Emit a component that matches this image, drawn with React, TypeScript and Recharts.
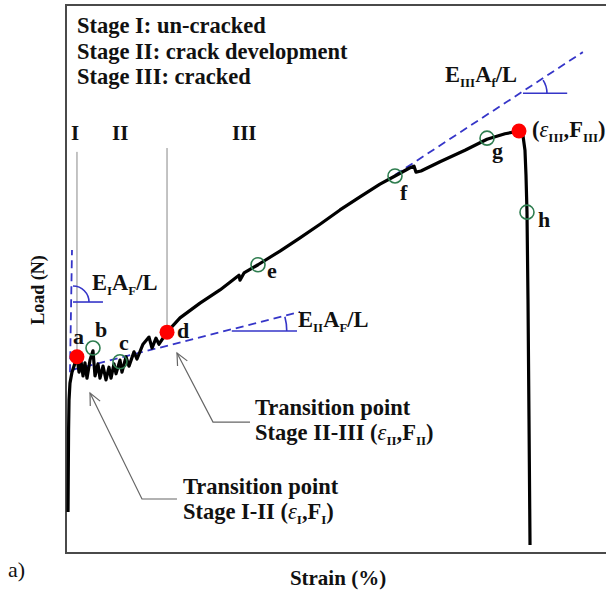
import React from "react";
import {
  ComposedChart,
  Line,
  Scatter,
  XAxis,
  YAxis,
  ReferenceArea,
  ReferenceLine,
  ReferenceDot,
} from "recharts";

// strain and load are both given in % of the plotted range
const loadCurve = [
  { x: 0.36, y: 7.48 }, { x: 0.41, y: 15.15 }, { x: 0.46, y: 22.4 }, { x: 0.54, y: 27.9 },
  { x: 0.71, y: 31.0 }, { x: 1.07, y: 33.0 }, { x: 1.43, y: 34.1 }, { x: 1.96, y: 35.8 },
  { x: 2.32, y: 33.0 }, { x: 2.68, y: 35.0 }, { x: 3.04, y: 32.3 }, { x: 3.39, y: 34.7 },
  { x: 3.75, y: 31.9 }, { x: 4.29, y: 35.2 }, { x: 4.82, y: 36.9 }, { x: 5.18, y: 32.3 },
  { x: 5.71, y: 34.5 }, { x: 6.07, y: 31.9 }, { x: 6.61, y: 34.1 }, { x: 7.14, y: 31.6 },
  { x: 7.68, y: 33.9 }, { x: 8.04, y: 31.9 }, { x: 8.57, y: 34.5 }, { x: 8.93, y: 32.7 },
  { x: 9.64, y: 35.2 }, { x: 10.0, y: 33.0 }, { x: 10.71, y: 35.8 }, { x: 11.25, y: 34.1 },
  { x: 12.14, y: 36.7 }, { x: 12.68, y: 35.4 }, { x: 13.75, y: 38.1 }, { x: 14.82, y: 39.4 },
  { x: 15.36, y: 37.4 }, { x: 16.07, y: 39.2 }, { x: 16.61, y: 38.1 }, { x: 18.04, y: 40.3 },
  { x: 20.36, y: 42.9 }, { x: 23.93, y: 45.6 }, { x: 27.5, y: 48.0 }, { x: 30.89, y: 50.7 },
  { x: 31.07, y: 49.8 }, { x: 31.79, y: 51.1 }, { x: 34.29, y: 52.6 }, { x: 38.21, y: 55.1 },
  { x: 41.79, y: 57.5 }, { x: 45.36, y: 60.0 }, { x: 48.93, y: 62.6 }, { x: 52.5, y: 65.0 },
  { x: 56.07, y: 67.3 }, { x: 58.75, y: 68.8 }, { x: 61.43, y: 70.3 }, { x: 62.14, y: 70.6 },
  { x: 62.5, y: 69.5 }, { x: 63.39, y: 69.7 }, { x: 66.79, y: 71.4 }, { x: 71.25, y: 73.5 },
  { x: 75.18, y: 75.5 }, { x: 78.39, y: 76.5 }, { x: 80.89, y: 77.0 }, { x: 81.61, y: 76.1 },
  { x: 81.96, y: 73.5 }, { x: 82.14, y: 69.0 }, { x: 82.32, y: 62.2 }, { x: 82.5, y: 46.2 },
  { x: 82.68, y: 24.3 }, { x: 82.86, y: 1.46 },
];

// stiffness fits for each stage
const stageIFit = [{ x: 0.71, y: 33.0 }, { x: 1.07, y: 55.3 }];
const stageIIFit = [{ x: 1.07, y: 33.4 }, { x: 41.8, y: 44.0 }];
const stageIIIFit = [{ x: 58.75, y: 69.0 }, { x: 92.3, y: 91.4 }];

// horizontal legs of the slope angles
const stageIBase = [{ x: 1.25, y: 45.8 }, { x: 6.6, y: 45.8 }];
const stageIIBase = [{ x: 29.6, y: 40.5 }, { x: 41.25, y: 40.5 }];
const stageIIIBase = [{ x: 81.6, y: 83.9 }, { x: 89.5, y: 83.9 }];

const transitionPoints = [
  { name: "a", x: 1.96, y: 35.8 },
  { name: "d", x: 18.04, y: 40.3 },
  { name: "peak", x: 80.89, y: 77.0 },
];

const markedPoints = [
  { name: "b", x: 4.82, y: 37.4 },
  { name: "c", x: 9.64, y: 34.9 },
  { name: "e", x: 34.29, y: 52.6 },
  { name: "f", x: 58.75, y: 68.8 },
  { name: "g", x: 75.18, y: 75.7 },
  { name: "h", x: 82.32, y: 62.2 },
];

// stage boundaries (strain) and how high the marker lines reach
const stageBounds = [
  { x: 1.96, from: 35.8, to: 73.2 },
  { x: 18.04, from: 40.3, to: 73.9 },
];

// leader lines for the two transition callouts
const pointerII = [{ x: 32.86, y: 23.9 }, { x: 26.25, y: 23.9 }, { x: 19.82, y: 36.5 }];
const pointerI = [{ x: 19.82, y: 9.85 }, { x: 13.57, y: 9.85 }, { x: 4.29, y: 29.2 }];

const SERIF = '"Liberation Serif", "Times New Roman", serif';
const BLUE = "#3535c8";
const GREEN = "#2e7d4f";
const INK = "#111";

// letter placement next to each point, px
const letterOffset: Record<string, [number, number]> = {
  a: [-4, -13],
  b: [2, -11],
  c: [-1, -12],
  d: [10, 6],
  e: [9, 13],
  f: [5, 24],
  g: [5, 20],
  h: [11, 15],
};

const Letter = ({ cx, cy, name }: { cx: number; cy: number; name: string }) => {
  const off = letterOffset[name];
  if (!off) return null;
  return (
    <text x={cx + off[0]} y={cy + off[1]} fontFamily={SERIF} fontWeight="bold" fontSize={22} fill={INK}>
      {name}
    </text>
  );
};

// inline runs: [text, subscript?, italic?]
type Run = [string, boolean?, boolean?];
const rich = (runs: Run[]) => {
  let low = false;
  return runs.map(([s, sub, ital], i) => {
    const dy = sub && !low ? 5 : !sub && low ? -5 : 0;
    low = !!sub;
    return (
      <tspan
        key={i}
        dy={dy || undefined}
        fontSize={sub ? 13 : undefined}
        fontStyle={ital ? "italic" : undefined}
        fontWeight={ital ? "normal" : undefined}
      >
        {s}
      </tspan>
    );
  });
};

// text block anchored at a data point
const note = (key: string, x: number, y: number, body: React.ReactNode) => (
  <ReferenceDot
    key={key}
    x={x}
    y={y}
    r={0}
    ifOverflow="visible"
    shape={(p: any) => (
      <g transform={`translate(${p.cx},${p.cy})`} fontFamily={SERIF} fontWeight="bold" fontSize={22.5} fill={INK}>
        {body}
      </g>
    )}
  />
);

// angle arc at the foot of a fit line
const arc = (key: string, x: number, y: number, r: number, deg: number) => (
  <ReferenceDot
    key={key}
    x={x}
    y={y}
    r={0}
    ifOverflow="visible"
    shape={(p: any) => {
      const t = (deg * Math.PI) / 180;
      const ex = p.cx + r * Math.cos(t);
      const ey = p.cy - r * Math.sin(t);
      return (
        <path
          d={`M${p.cx + r},${p.cy} A${r},${r} 0 0 0 ${ex},${ey}`}
          fill="none"
          stroke={BLUE}
          strokeWidth={1.6}
        />
      );
    }}
  />
);

// open arrow head at a leader tip, heading in screen degrees
const arrowHead = (key: string, x: number, y: number, heading: number) => (
  <ReferenceDot
    key={key}
    x={x}
    y={y}
    r={0}
    ifOverflow="visible"
    shape={(p: any) => {
      const back = ((heading + 180) * Math.PI) / 180;
      const s = (25 * Math.PI) / 180;
      const L = 13;
      const a1 = [p.cx + L * Math.cos(back - s), p.cy + L * Math.sin(back - s)];
      const a2 = [p.cx + L * Math.cos(back + s), p.cy + L * Math.sin(back + s)];
      return (
        <path
          d={`M${a1[0]},${a1[1]} L${p.cx},${p.cy} L${a2[0]},${a2[1]}`}
          fill="none"
          stroke="#666"
          strokeWidth={1.2}
        />
      );
    }}
  />
);

export default function App() {
  return (
    <div style={{ position: "absolute", left: 0, top: 0, width: 606, height: 592, overflow: "hidden", background: "#fff" }}>
      <ComposedChart width={640} height={592} margin={{ top: 5, right: 14, bottom: 39, left: 66 }}>
        <XAxis type="number" dataKey="x" domain={[0, 100]} hide allowDataOverflow />
        <YAxis type="number" dataKey="y" domain={[0, 100]} hide allowDataOverflow />

        <ReferenceArea x1={0} x2={100} y1={0} y2={100} fill="none" stroke="#4a4a4a" strokeWidth={2} />

        {stageBounds.map((b, i) => (
          <ReferenceLine
            key={`bound-${i}`}
            segment={[{ x: b.x, y: b.from }, { x: b.x, y: b.to }]}
            stroke="#888"
            strokeWidth={1}
          />
        ))}

        <Line data={stageIFit} dataKey="y" stroke={BLUE} strokeWidth={1.8} strokeDasharray="8 5" dot={false} isAnimationActive={false} />
        <Line data={stageIIFit} dataKey="y" stroke={BLUE} strokeWidth={1.8} strokeDasharray="8 5" dot={false} isAnimationActive={false} />
        <Line data={stageIIIFit} dataKey="y" stroke={BLUE} strokeWidth={1.8} strokeDasharray="8 5" dot={false} isAnimationActive={false} />
        <Line data={stageIBase} dataKey="y" stroke={BLUE} strokeWidth={1.6} dot={false} isAnimationActive={false} />
        <Line data={stageIIBase} dataKey="y" stroke={BLUE} strokeWidth={1.6} dot={false} isAnimationActive={false} />
        <Line data={stageIIIBase} dataKey="y" stroke={BLUE} strokeWidth={1.6} dot={false} isAnimationActive={false} />
        {arc("arc-1", 1.25, 45.8, 16, 90)}
        {arc("arc-2", 29.6, 40.5, 55, 15)}
        {arc("arc-3", 81.6, 83.9, 24, 33)}

        <Line data={pointerII} dataKey="y" stroke="#666" strokeWidth={1.2} dot={false} isAnimationActive={false} />
        <Line data={pointerI} dataKey="y" stroke="#666" strokeWidth={1.2} dot={false} isAnimationActive={false} />
        {arrowHead("tip-2", 19.82, 36.5, -117.5)}
        {arrowHead("tip-1", 4.29, 29.2, -116.1)}

        <Line
          data={loadCurve}
          dataKey="y"
          type="linear"
          stroke="#000"
          strokeWidth={3.2}
          strokeLinejoin="round"
          dot={false}
          isAnimationActive={false}
        />

        <Scatter
          data={markedPoints}
          dataKey="y"
          isAnimationActive={false}
          shape={(p: any) => (
            <g>
              <circle cx={p.cx} cy={p.cy} r={7} fill="none" stroke={GREEN} strokeWidth={1.6} />
              <Letter cx={p.cx} cy={p.cy} name={p.payload?.name ?? p.name} />
            </g>
          )}
        />
        <Scatter
          data={transitionPoints}
          dataKey="y"
          isAnimationActive={false}
          shape={(p: any) => (
            <g>
              <circle cx={p.cx} cy={p.cy} r={7.5} fill="#ff0000" />
              <Letter cx={p.cx} cy={p.cy} name={p.payload?.name ?? p.name} />
            </g>
          )}
        />

        {note(
          "stages",
          0,
          100,
          <>
            <text x={11} y={28}>Stage I: un-cracked</text>
            <text x={11} y={53.5}>Stage II: crack development</text>
            <text x={11} y={79}>Stage III: cracked</text>
            <text x={5} y={135} fontSize={21}>I</text>
            <text x={46} y={135} fontSize={21}>II</text>
            <text x={166} y={135} fontSize={21}>III</text>
          </>
        )}

        {note(
          "axes",
          0,
          0,
          <>
            <text x={272} y={32} textAnchor="middle" fontSize={21}>Strain (%)</text>
            <text transform="translate(-22,-263) rotate(-90)" textAnchor="middle" fontSize={18}>Load (N)</text>
            <text x={-58} y={24} fontWeight="normal" fontSize={22}>a)</text>
          </>
        )}

        {note("k1", 1.25, 45.8, <text x={19} y={-12}>{rich([["E"], ["I", true], ["A"], ["F", true], ["/L"]])}</text>)}
        {note("k2", 41.25, 40.5, <text x={1} y={-4}>{rich([["E"], ["II", true], ["A"], ["F", true], ["/L"]])}</text>)}
        {note("k3", 81.6, 83.9, <text x={-78} y={-11}>{rich([["E"], ["III", true], ["A"], ["f", true], ["/L"]])}</text>)}

        {note(
          "ult",
          80.89,
          77.0,
          <text x={13} y={6}>{rich([["("], ["ε", false, true], ["III", true], [",F"], ["III", true], [")"]])}</text>
        )}

        {note(
          "tp2",
          32.86,
          23.9,
          <>
            <text x={5} y={-7}>Transition point</text>
            <text x={5} y={18}>
              {rich([["Stage II-III ("], ["ε", false, true], ["II", true], [",F"], ["II", true], [")"]])}
            </text>
          </>
        )}
        {note(
          "tp1",
          19.82,
          9.85,
          <>
            <text x={6} y={-5}>Transition point</text>
            <text x={6} y={20}>
              {rich([["Stage I-II ("], ["ε", false, true], ["I", true], [",F"], ["I", true], [")"]])}
            </text>
          </>
        )}
      </ComposedChart>
    </div>
  );
}
